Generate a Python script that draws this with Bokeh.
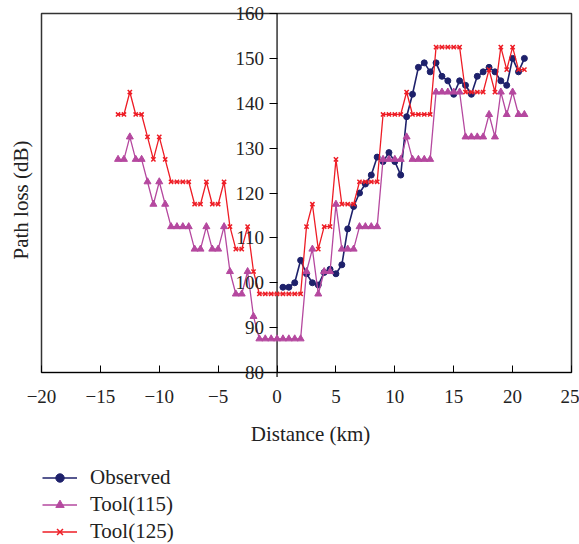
import math
from bokeh.plotting import figure
from bokeh.models import (LinearAxis, FixedTicker, Range1d, Legend, LegendItem, Label)
from bokeh.embed import file_html
from bokeh.resources import INLINE

# ---- data ----
tool_x = [-13.5, -13.0, -12.5, -12.0, -11.5, -11.0, -10.5, -10.0, -9.5, -9.0,
          -8.5, -8.0, -7.5, -7.0, -6.5, -6.0, -5.5, -5.0, -4.5, -4.0,
          -3.5, -3.0, -2.5, -2.0, -1.5, -1.0, -0.5, 0.0, 0.5, 1.0,
          1.5, 2.0, 2.5, 3.0, 3.5, 4.0, 4.5, 5.0, 5.5, 6.0,
          6.5, 7.0, 7.5, 8.0, 8.5, 9.0, 9.5, 10.0, 10.5, 11.0,
          11.5, 12.0, 12.5, 13.0, 13.5, 14.0, 14.5, 15.0, 15.5, 16.0,
          16.5, 17.0, 17.5, 18.0, 18.5, 19.0, 19.5, 20.0, 20.5, 21.0]

tool125 = [137.5, 137.5, 142.5, 137.5, 137.5, 132.5, 127.5, 132.5, 127.5, 122.5,
           122.5, 122.5, 122.5, 117.5, 117.5, 122.5, 117.5, 117.5, 122.5, 112.5,
           107.5, 107.5, 112.5, 102.5, 97.5, 97.5, 97.5, 97.5, 97.5, 97.5,
           97.5, 97.5, 112.5, 117.5, 107.5, 112.5, 112.5, 127.5, 117.5, 117.5,
           117.5, 122.5, 122.5, 122.5, 122.5, 137.5, 137.5, 137.5, 137.5, 142.5,
           137.5, 137.5, 137.5, 137.5, 152.5, 152.5, 152.5, 152.5, 152.5, 142.5,
           142.5, 142.5, 142.5, 147.5, 142.5, 152.5, 147.5, 152.5, 147.5, 147.5]

tool115 = [127.5, 127.5, 132.5, 127.5, 127.5, 122.5, 117.5, 122.5, 117.5, 112.5,
           112.5, 112.5, 112.5, 107.5, 107.5, 112.5, 107.5, 107.5, 112.5, 102.5,
           97.5, 97.5, 102.5, 92.5, 87.5, 87.5, 87.5, 87.5, 87.5, 87.5,
           87.5, 87.5, 102.5, 107.5, 97.5, 102.5, 102.5, 117.5, 107.5, 107.5,
           107.5, 112.5, 112.5, 112.5, 112.5, 127.5, 127.5, 127.5, 127.5, 132.5,
           127.5, 127.5, 127.5, 127.5, 142.5, 142.5, 142.5, 142.5, 142.5, 132.5,
           132.5, 132.5, 132.5, 137.5, 132.5, 142.5, 137.5, 142.5, 137.5, 137.5]

obs_x = [0.5, 1.0, 1.5, 2.0, 2.5, 3.0, 3.5, 4.0, 4.5, 5.0,
         5.5, 6.0, 6.5, 7.0, 7.5, 8.0, 8.5, 9.0, 9.5, 10.0,
         10.5, 11.0, 11.5, 12.0, 12.5, 13.0, 13.5, 14.0, 14.5, 15.0,
         15.5, 16.0, 16.5, 17.0, 17.5, 18.0, 18.5, 19.0, 19.5, 20.0,
         20.5, 21.0]
observed = [99.0, 99.0, 100.0, 105.0, 102.0, 100.0, 99.5, 102.3, 103.0, 102.0,
            104.0, 112.0, 117.0, 120.0, 122.0, 124.0, 128.0, 127.0, 129.0, 127.0,
            124.0, 137.0, 142.0, 148.0, 149.0, 147.0, 149.0, 146.0, 145.0, 142.0,
            145.0, 144.0, 142.0, 146.0, 147.0, 148.0, 147.0, 145.0, 144.0, 150.0,
            147.0, 150.0]

x_ticks = [-20, -15, -10, -5, 0, 5, 10, 15, 20, 25]
y_ticks = [80, 90, 100, 110, 120, 130, 140, 150, 160]
series_names = ["Observed", "Tool(115)", "Tool(125)"]
x_title = "Distance (km)"
y_title = "Path loss (dB)"

FONT = "Liberation Serif"
TXT = "#222222"
NAVY = "#1e216b"
MAGENTA = "#b5489f"
RED = "#ee1c25"

# ---- layout: the plotting frame fills the whole canvas so that nothing is clipped;
# the chart box (x -20..25, y 80..160) sits at pixels 41..571 x 13..372
W, H = 579, 544
BOX_L, BOX_R, BOX_T, BOX_B = 41, 571, 13, 372
x0, x1 = x_ticks[0], x_ticks[-1]
y0, y1 = y_ticks[0], y_ticks[-1]
kx = (BOX_R - BOX_L) / (x1 - x0)
ky = (BOX_B - BOX_T) / (y1 - y0)
xr = Range1d(x0 - BOX_L / kx, x1 + (W - BOX_R) / kx)
yr = Range1d(y0 - (H - BOX_B) / ky, y1 + BOX_T / ky)

p = figure(width=W, height=H, output_backend="svg", toolbar_location=None,
           x_range=xr, y_range=yr, x_axis_location=None, y_axis_location=None,
           min_border=0)
p.grid.visible = False
p.outline_line_color = None

# chart box
p.quad(left=[x0], right=[x1], bottom=[y0], top=[y1], fill_color=None,
       line_color="#333333", line_width=1.5)
# axis lines
p.segment(x0=[0], y0=[y0 - 1], x1=[0], y1=[y1], line_color="black", line_width=1.2)
p.segment(x0=[x0], y0=[y0], x1=[x1], y1=[y0], line_color="black", line_width=1.2)

# x axis at y = 80
xa = LinearAxis(fixed_location=y0, ticker=FixedTicker(ticks=x_ticks))
xa.major_label_overrides = {float(t): (("\u2212" + str(abs(t))) if t < 0 else str(t)) for t in x_ticks}
xa.axis_line_color = None
xa.major_tick_in = 7
xa.major_tick_out = 0
xa.minor_tick_line_color = None
xa.major_tick_line_color = "black"
xa.major_label_text_font = FONT
xa.major_label_text_font_size = "19px"
xa.major_label_text_color = TXT
xa.major_label_standoff = 17
p.add_layout(xa, "below")

# y axis at x = 0
ya = LinearAxis(fixed_location=0, ticker=FixedTicker(ticks=y_ticks))
ya.axis_line_color = None
ya.major_tick_in = 0
ya.major_tick_out = 8
ya.minor_tick_line_color = None
ya.major_tick_line_color = "black"
ya.major_label_text_font = FONT
ya.major_label_text_font_size = "19px"
ya.major_label_text_color = TXT
ya.major_label_standoff = 5
p.add_layout(ya, "left")

# axis titles
p.add_layout(Label(x=(x0 + x1) / 2, y=y0, x_offset=4, y_offset=-61,
                   text=x_title, text_align="center", text_baseline="middle",
                   text_font=FONT, text_font_size="21px", text_color=TXT))
p.add_layout(Label(x=x0, y=(y0 + y1) / 2, x_offset=-21, y_offset=-7,
                   text=y_title, angle=math.pi / 2,
                   text_align="center", text_baseline="middle",
                   text_font=FONT, text_font_size="21px", text_color=TXT))

# series
l1 = p.line(obs_x, observed, line_color=NAVY, line_width=1.6)
s1 = p.scatter(obs_x, observed, marker="circle", size=6, fill_color=NAVY, line_color=NAVY)
l2 = p.line(tool_x, tool115, line_color=MAGENTA, line_width=1.3)
s2 = p.scatter(tool_x, tool115, marker="triangle", size=7, fill_color=MAGENTA, line_color=MAGENTA)
l3 = p.line(tool_x, tool125, line_color=RED, line_width=1.3)
s3 = p.scatter(tool_x, tool125, marker="x", size=6, line_color=RED, line_width=1.5)

legend = Legend(items=[LegendItem(label=series_names[0], renderers=[l1, s1]),
                       LegendItem(label=series_names[1], renderers=[l2, s2]),
                       LegendItem(label=series_names[2], renderers=[l3, s3])],
                location=(42, 0), orientation="vertical",
                padding=0, margin=0, spacing=2,
                glyph_height=21, glyph_width=35, label_height=21,
                label_standoff=13, border_line_color=None,
                background_fill_alpha=0,
                label_text_font=FONT, label_text_font_size="21px",
                label_text_color=TXT)
p.add_layout(legend, "center")

open("out.html", "w").write(file_html(p, INLINE))
